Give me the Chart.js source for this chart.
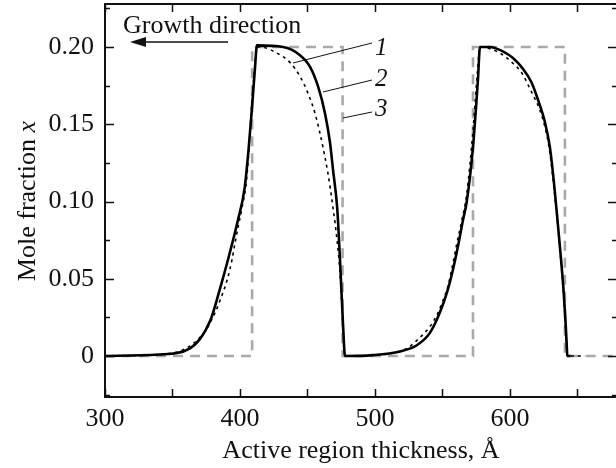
<!DOCTYPE html>
<html>
<head>
<meta charset="utf-8">
<script src="https://cdn.jsdelivr.net/npm/chart.js@4/dist/chart.umd.min.js"></script>
<style>
  html, body { margin: 0; padding: 0; background: #fff; overflow: hidden; }
  #wrap { width: 616px; height: 468px; overflow: hidden; }
</style>
</head>
<body>
<div id="wrap"><canvas id="chart" width="630" height="468"></canvas></div>
<script>
// curve 1 (dotted)
var x1 = [300, 340, 357.8, 368, 375.6, 381.5, 385.2, 390.4, 394, 396.3, 398.5, 401.5, 405, 409, 413, 415, 427.4, 437, 444.4, 450.4, 455.6, 459.3, 461.5, 465.2, 468.9, 471.9, 474.1, 476.3, 477.8, 500, 523.7, 533.3, 540.7, 546.7, 550.4, 554, 557.8, 560.7, 564.4, 568, 572.6, 576, 577.8, 592.6, 601.5, 608.9, 614.8, 622.2, 626, 629, 632, 634.5, 637, 639, 640.8, 641.8, 642.3, 655.6];
var y1 = [0, 0.001, 0.004, 0.010, 0.018, 0.028, 0.036, 0.049, 0.062, 0.073, 0.083, 0.096, 0.115, 0.166, 0.2, 0.2, 0.196, 0.19, 0.181, 0.170, 0.157, 0.144, 0.135, 0.118, 0.096, 0.075, 0.054, 0.02, 0, 0.0005, 0.005, 0.012, 0.019, 0.028, 0.036, 0.045, 0.060, 0.073, 0.088, 0.105, 0.146, 0.185, 0.2, 0.196, 0.19, 0.183, 0.173, 0.159, 0.148, 0.135, 0.114, 0.093, 0.07, 0.048, 0.026, 0.009, 0, 0];
// curve 2 (solid)
var x2 = [300, 340, 363, 378, 385, 392.5, 398.5, 403.5, 406.5, 409, 411, 412.6, 432, 444, 452, 458, 463, 466.7, 469, 472, 474, 476.3, 477.8, 498.5, 518.5, 531, 540.7, 548, 553.3, 557.8, 561.5, 565.2, 568, 572.6, 576.3, 577.8, 585, 595, 602, 609.5, 616, 620.7, 626, 629.6, 632.5, 635, 637.5, 639.5, 641, 642, 642.5, 645];
var y2 = [0, 0.001, 0.005, 0.023, 0.043, 0.067, 0.088, 0.109, 0.135, 0.162, 0.185, 0.201, 0.2, 0.195, 0.187, 0.174, 0.157, 0.138, 0.12, 0.096, 0.064, 0.021, 0, 0.0006, 0.003, 0.007, 0.015, 0.028, 0.041, 0.056, 0.071, 0.088, 0.1, 0.135, 0.179, 0.2, 0.2, 0.197, 0.193, 0.186, 0.177, 0.166, 0.151, 0.135, 0.113, 0.09, 0.066, 0.045, 0.025, 0.008, 0, 0];
// curve 3 (gray dashed, nominal profile)
var x3 = [300, 409, 409, 476, 476, 572.6, 572.6, 640.7, 640.7, 680];
var y3 = [0, 0, 0.2, 0.2, 0, 0, 0.2, 0.2, 0, 0];

var xTicks = [300, 400, 500, 600];
var yTicks = [0, 0.05, 0.1, 0.15, 0.2];
var xMinor = [300, 350, 400, 450, 500, 550, 600, 650];
var yMinor = [-0.025, 0, 0.025, 0.05, 0.075, 0.1, 0.125, 0.15, 0.175, 0.2, 0.225];

var FONT = '"Liberation Serif", "Times New Roman", serif';

function pts(xs, ys) {
    var out = [];
    for (var i = 0; i < xs.length; i++) out.push({x: xs[i], y: ys[i]});
    return out;
}

var framePlugin = {
    id: 'frame',
    afterDatasetsDraw: function (chart) {
        var ctx = chart.ctx, a = chart.chartArea;
        var xs = chart.scales.x, ys = chart.scales.y;
        ctx.save();
        ctx.strokeStyle = '#111';
        ctx.lineWidth = 2;
        ctx.beginPath();
        ctx.rect(a.left, a.top, a.right - a.left, a.bottom - a.top);
        ctx.stroke();
        ctx.beginPath();
        xMinor.forEach(function (v) {
            var px = Math.round(xs.getPixelForValue(v)) + 0.5;
            ctx.moveTo(px, a.bottom); ctx.lineTo(px, a.bottom - 8);
            ctx.moveTo(px, a.top); ctx.lineTo(px, a.top + 8);
        });
        yMinor.forEach(function (v) {
            var py = Math.round(ys.getPixelForValue(v)) + 0.5;
            var major = Math.abs(Math.round(v * 20) - v * 20) < 1e-6;
            var len = major ? 9 : 5;
            ctx.moveTo(a.left, py); ctx.lineTo(a.left + len, py);
            ctx.moveTo(a.right, py); ctx.lineTo(a.right - len, py);
        });
        ctx.lineWidth = 1.5;
        ctx.stroke();

        // leader lines for curve numbers
        ctx.lineWidth = 1;
        ctx.beginPath();
        ctx.moveTo(293, 63); ctx.lineTo(372, 43);
        ctx.moveTo(323, 92); ctx.lineTo(372, 80);
        ctx.moveTo(343, 118); ctx.lineTo(372, 112);
        ctx.stroke();

        ctx.fillStyle = '#111';
        ctx.font = 'italic 25px ' + FONT;
        ctx.textAlign = 'left';
        ctx.textBaseline = 'alphabetic';
        ctx.fillText('1', 375, 55);
        ctx.fillText('2', 375, 86);
        ctx.fillText('3', 375, 116);

        // growth direction
        ctx.font = '26px ' + FONT;
        ctx.fillText('Growth direction', 123, 33);
        ctx.lineWidth = 1.5;
        ctx.beginPath();
        ctx.moveTo(228, 42); ctx.lineTo(142, 42);
        ctx.stroke();
        ctx.beginPath();
        ctx.moveTo(130, 42); ctx.lineTo(146, 37); ctx.lineTo(146, 47);
        ctx.closePath();
        ctx.fill();

        // axis titles
        ctx.font = '26px ' + FONT;
        ctx.textAlign = 'center';
        ctx.fillText('Active region thickness, \u00c5', 361, 458);

        ctx.translate(35, 201);
        ctx.rotate(-Math.PI / 2);
        var t1 = 'Mole fraction ';
        ctx.font = '26px ' + FONT;
        var w1 = ctx.measureText(t1).width;
        ctx.font = 'italic 26px ' + FONT;
        var w2 = ctx.measureText('x').width;
        var start = -(w1 + w2) / 2;
        ctx.textAlign = 'left';
        ctx.font = '26px ' + FONT;
        ctx.fillText(t1, start, 0);
        ctx.font = 'italic 26px ' + FONT;
        ctx.fillText('x', start + w1, 0);
        ctx.restore();
    }
};

var ctx = document.getElementById('chart');
new Chart(ctx, {
    type: 'line',
    data: {
        datasets: [{
            label: '2',
            data: pts(x2, y2),
            borderColor: '#000',
            borderWidth: 2.6,
            pointRadius: 0,
            cubicInterpolationMode: 'monotone',
            order: 0
        }, {
            label: '1',
            data: pts(x1, y1),
            borderColor: '#000',
            borderWidth: 1.6,
            borderDash: [3, 4],
            pointRadius: 0,
            cubicInterpolationMode: 'monotone',
            order: 1
        }, {
            label: '3',
            data: pts(x3, y3),
            borderColor: '#a9a9a9',
            borderWidth: 2.6,
            borderDash: [10, 7],
            pointRadius: 0,
            tension: 0,
            order: 2
        }]
    },
    options: {
        responsive: false,
        animation: false,
        devicePixelRatio: 1,
        layout: { padding: { top: 4, right: 13, left: 0, bottom: 0 } },
        plugins: { legend: { display: false }, tooltip: { enabled: false } },
        scales: {
            x: {
                type: 'linear',
                min: 300,
                max: 679.3,
                grid: { display: false, drawTicks: false },
                border: { display: false },
                afterBuildTicks: function (s) { s.ticks = xTicks.map(function (v) { return {value: v}; }); },
                afterFit: function (s) { s.height = 71; s.paddingLeft = 0; s.paddingRight = 0; },
                ticks: {
                    autoSkip: false,
                    maxRotation: 0,
                    padding: 7,
                    color: '#111',
                    font: { family: FONT, size: 26 },
                    callback: function (v) { return String(v); }
                }
            },
            y: {
                type: 'linear',
                min: -0.0265,
                max: 0.2278,
                grid: { display: false, drawTicks: false },
                border: { display: false },
                afterBuildTicks: function (s) { s.ticks = yTicks.map(function (v) { return {value: v}; }); },
                afterFit: function (s) { s.width = 105; s.paddingTop = 0; s.paddingBottom = 0; },
                ticks: {
                    autoSkip: false,
                    padding: 11,
                    color: '#111',
                    font: { family: FONT, size: 26 },
                    callback: function (v) { return v === 0 ? '0' : v.toFixed(2); }
                }
            }
        }
    },
    plugins: [framePlugin]
});
</script>
</body>
</html>
